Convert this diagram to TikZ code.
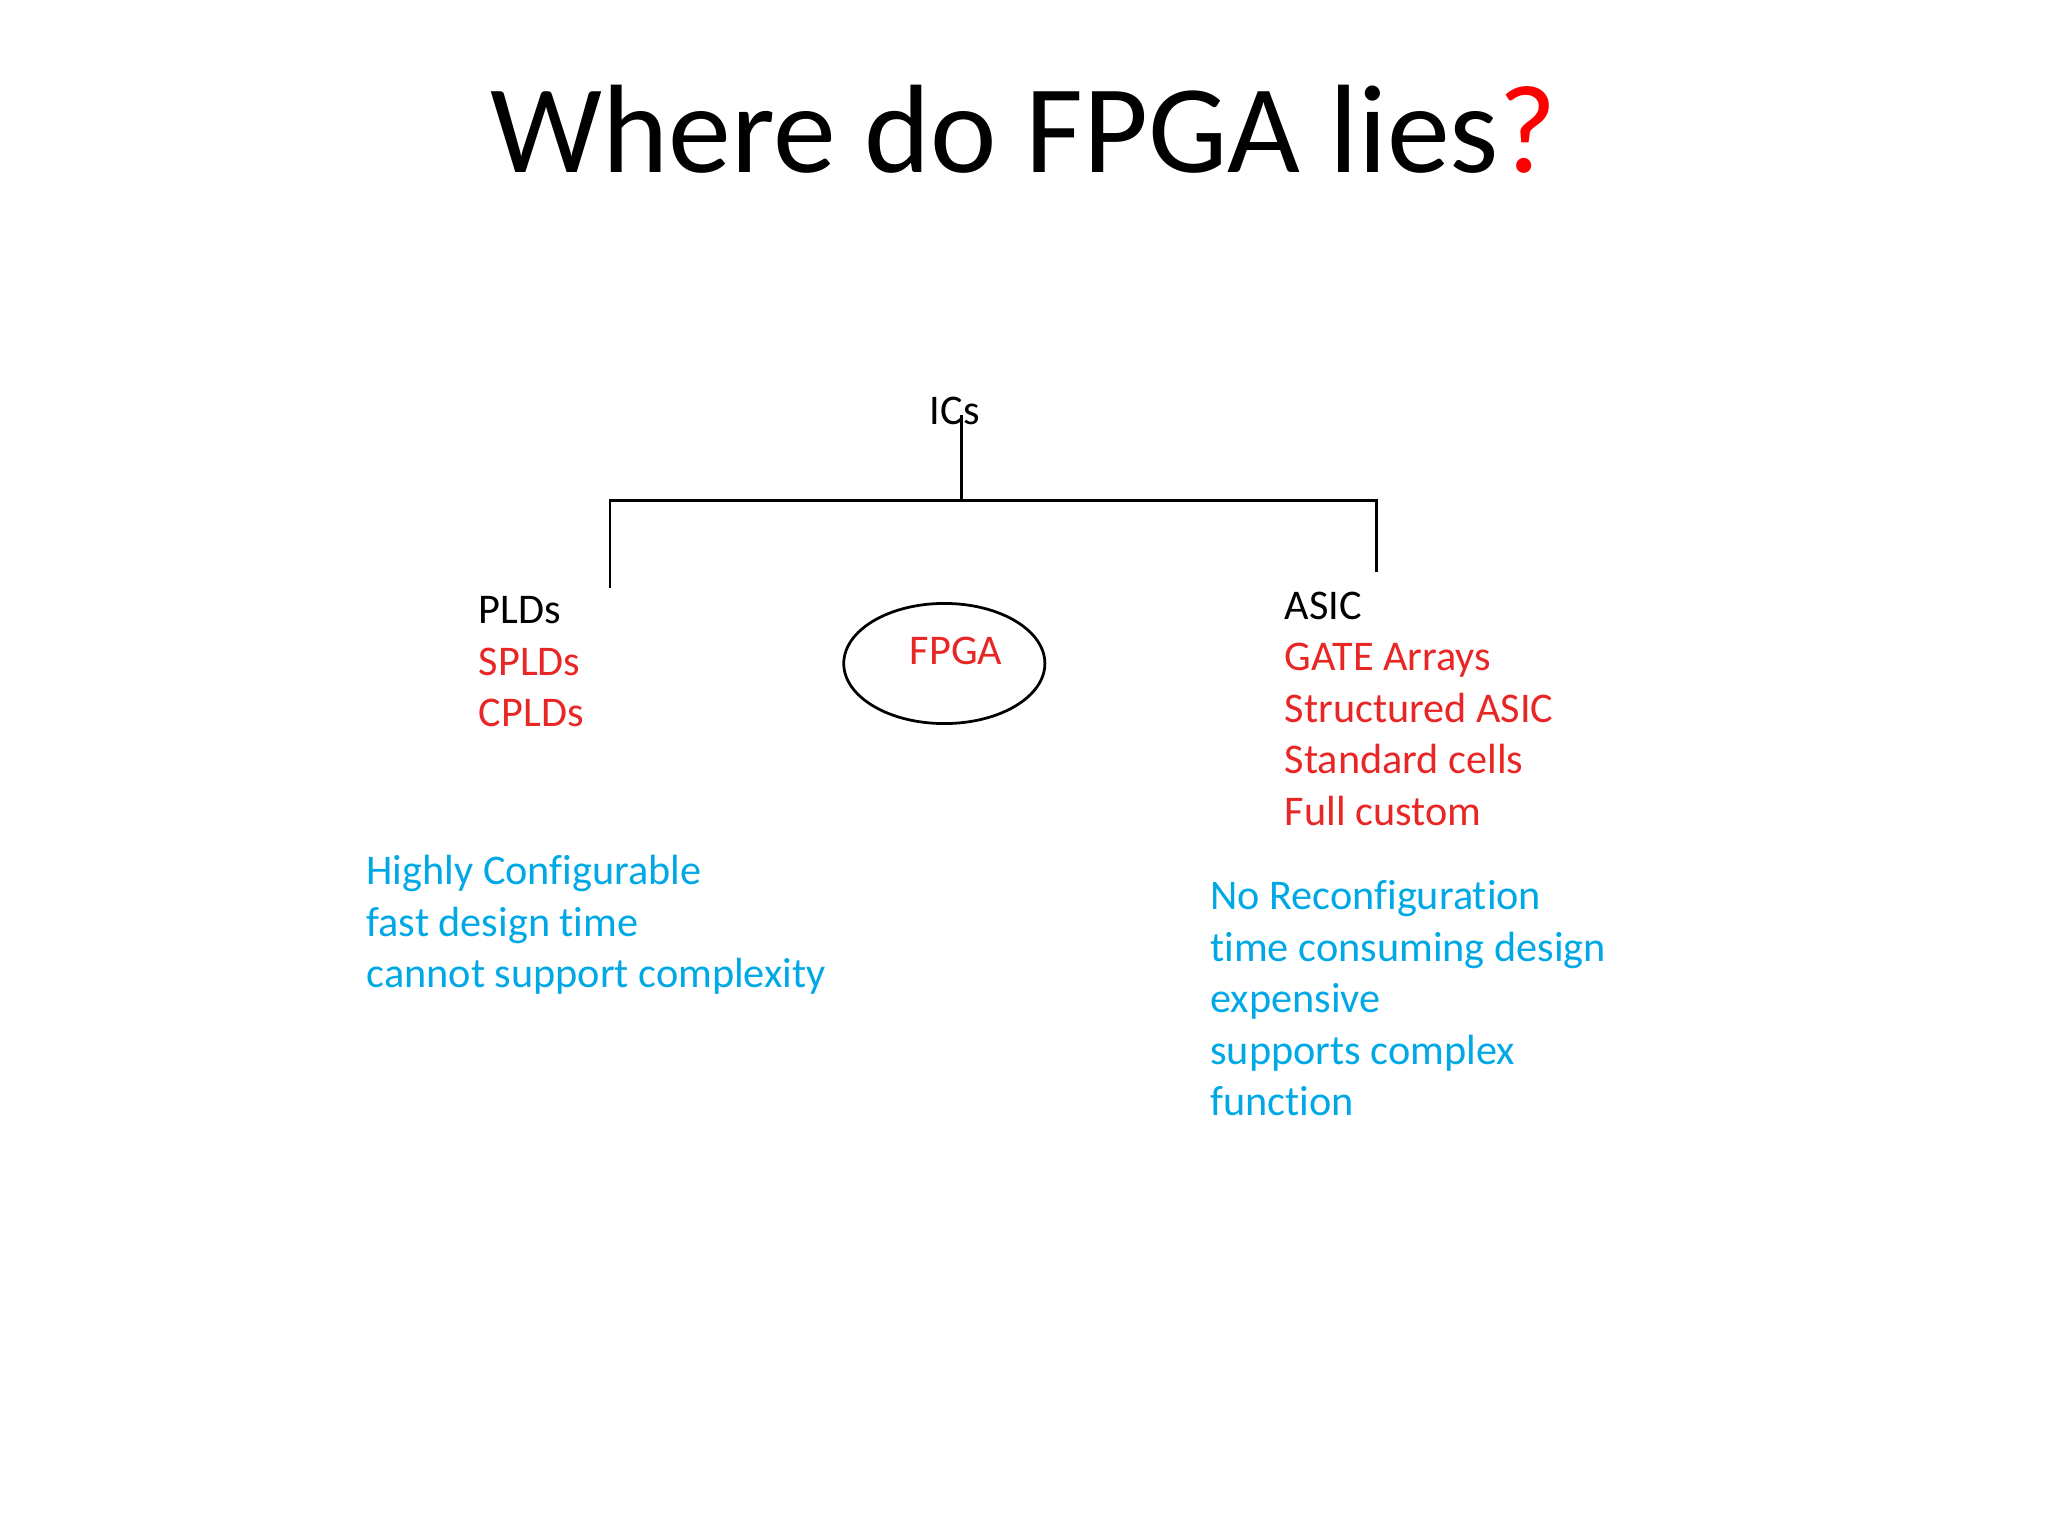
\documentclass[tikz,border=0pt]{standalone}
\usepackage{fontspec}
\setmainfont{Carlito}[Ligatures=NoCommon]
\definecolor{tred}{RGB}{232,38,38}
\definecolor{tblue}{RGB}{0,168,230}
\begin{document}
\begin{tikzpicture}[x=0.01cm,y=-0.01cm,
  lbl/.style={anchor=base west,inner sep=0pt,font=\fontsize{9.2pt}{11pt}\selectfont},
  ln/.style={line width=0.6pt}]
\useasboundingbox (0,0) rectangle (1568,1176);
\node[inner sep=0pt,anchor=base,font=\fontsize{27.4pt}{34pt}\selectfont] (title) at (784,132) {Where do FPGA lies\textcolor{red}{?}};
\node[inner sep=0pt,anchor=base,font=\fontsize{9.2pt}{11pt}\selectfont] (ics) at (731,325) {ICs};
\coordinate (top) at (736,318);
\coordinate (mid) at (736,383);
\coordinate (l) at (467,383);
\coordinate (r) at (1054,383);
\coordinate (lb) at (467,450);
\coordinate (rb) at (1054,438);
\draw[ln] (top) -- (mid);
\draw[ln] (lb) -- (l) -- (r) -- (rb);
\node[lbl] (plds) at (366,477) {PLDs};
\node[lbl,text=tred] (splds) at (366,517) {SPLDs};
\node[lbl,text=tred] (cplds) at (366,556) {CPLDs};
\draw[ln] (723,508) ellipse [x radius=77, y radius=46];
\node[inner sep=0pt,anchor=base,text=tred,font=\fontsize{9.2pt}{11pt}\selectfont] (fpga) at (732,509) {FPGA};
\node[lbl] (asic) at (983,474) {ASIC};
\node[lbl,text=tred] (a1) at (983,513) {GATE Arrays};
\node[lbl,text=tred] (a2) at (983,553) {Structured ASIC};
\node[lbl,text=tred] (a3) at (983,592) {Standard cells};
\node[lbl,text=tred] (a4) at (983,632) {Full custom};
\node[lbl,text=tblue] (b1) at (280,677) {Highly Configurable};
\node[lbl,text=tblue] (b2) at (280,717) {fast design time};
\node[lbl,text=tblue] (b3) at (280,756) {cannot support complexity};
\node[lbl,text=tblue] (c1) at (926,696) {No Reconfiguration};
\node[lbl,text=tblue] (c2) at (926,736) {time consuming design};
\node[lbl,text=tblue] (c3) at (926,775) {expensive};
\node[lbl,text=tblue] (c4) at (926,815) {supports complex};
\node[lbl,text=tblue] (c5) at (926,854) {function};
\end{tikzpicture}
\end{document}
